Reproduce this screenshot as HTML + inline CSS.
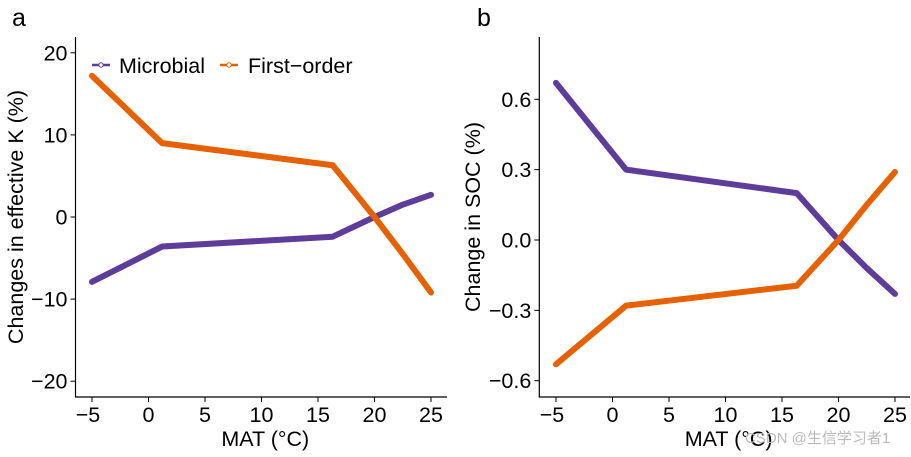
<!DOCTYPE html>
<html><head><meta charset="utf-8"><style>
body{margin:0;background:#fff}
svg text{font-family:"Liberation Sans","Noto Sans CJK SC",sans-serif;fill:#000}
</style></head><body>
<svg id="c" width="911" height="452"></svg>
<script>
const xTicks=[-5,0,5,10,15,20,25];
const aTicks=[-20,-10,0,10,20];
const bTicks=[-0.6,-0.3,0.0,0.3,0.6];
const bTickLabels=["\u22120.6","\u22120.3","0.0","0.3","0.6"];
const aTickLabels=["\u221220","\u221210","0","10","20"];
const matX=[-5,1.2,16.3,20,22.5,25];
const aMicrobial=[-7.9,-3.6,-2.4,0,1.5,2.7];
const aFirst=[17.2,9.0,6.3,0,-4.5,-9.2];
const bMicrobial=[0.67,0.30,0.20,0,-0.12,-0.23];
const bFirst=[-0.53,-0.28,-0.195,0,0.15,0.29];
const NS="http://www.w3.org/2000/svg";
const svg=document.getElementById('c');
function mk(t,a,p){const e=document.createElementNS(NS,t);for(const k in a)e.setAttribute(k,a[k]);(p||svg).appendChild(e);return e;}
function panel(o){
 const g=mk('g',{});
 
 
 const sx=v=>o.x0+(v+5)*o.kx, sy=v=>o.y0-v*o.ky;
 let ax=mk('path',{d:`M${o.left},${o.top}V${o.bottom}H${o.right}`,stroke:'#000','stroke-width':1.2,fill:'none'},g);
 
 xTicks.forEach(t=>{mk('line',{x1:sx(t),x2:sx(t),y1:o.bottom,y2:o.bottom+5,stroke:'#000'},g);
  const tx=mk('text',{x:sx(t)+(t<0?-4:0),y:o.bottom+25,'text-anchor':'middle','font-size':21.5},g);tx.textContent=t<0?'\u2212'+(-t):t;
  });
 o.yt.forEach((t,i)=>{mk('line',{x1:o.left-5,x2:o.left,y1:sy(t),y2:sy(t),stroke:'#000'},g);
  const tx=mk('text',{x:o.left-8,y:sy(t)+7.5,'text-anchor':'end','font-size':21.5},g);tx.textContent=o.yl[i];
  });
 const xt=mk('text',{x:(o.left+o.right)/2+4,y:446,'text-anchor':'middle','font-size':21.5},g);xt.textContent='MAT (\u00b0C)';
 
 const yt=mk('text',{transform:`translate(${o.ytx},${(o.top+o.bottom)/2}) rotate(-90)`,'text-anchor':'middle','font-size':21.5},g);yt.textContent=o.ytitle;
 
 const lt=mk('text',{x:o.lx,y:26,'font-size':25},g);lt.textContent=o.letter;
 
 [[o.mic,'#5e3c99','line-microbial'],[o.fir,'#e66101','line-first-order']].forEach(([d,c,n])=>{
  const p=mk('polyline',{points:matX.map((x,i)=>sx(x)+','+sy(d[i])).join(' '),stroke:c,'stroke-width':6,fill:'none','stroke-linejoin':'round','stroke-linecap':'round'},g);
  });
}
panel({name:'panel-a',left:75.5,right:447,top:37,bottom:397,x0:92,kx:11.3,y0:217,ky:8.21,yt:aTicks,yl:aTickLabels,mic:aMicrobial,fir:aFirst,ytitle:'Changes in effective K (%)',ytx:23,lx:12,letter:'a'});
panel({name:'panel-b',left:539.3,right:910,top:37,bottom:397,x0:556,kx:11.3,y0:240,ky:234.5,yt:bTicks,yl:bTickLabels,mic:bMicrobial,fir:bFirst,ytitle:'Change in SOC (%)',ytx:480,lx:477,letter:'b'});
const lg=mk('g',{});


[[92,119,'#5e3c99','Microbial'],[220,248,'#e66101','First\u2212order']].forEach(([x,tx,c,l])=>{
 mk('line',{x1:x,x2:x+18,y1:65,y2:65,stroke:c,'stroke-width':2.5},lg);
 mk('circle',{cx:x+9,cy:65,r:2.2,fill:'#fff',stroke:c,'stroke-width':1},lg);
 const t=mk('text',{x:tx,y:73,'font-size':21.5},lg);t.textContent=l;
 
});
const w=mk('text',{x:745,y:443,'font-size':15,style:'fill:#bbb'});w.textContent='CSDN @生信学习者1';


</script>
</body></html>
